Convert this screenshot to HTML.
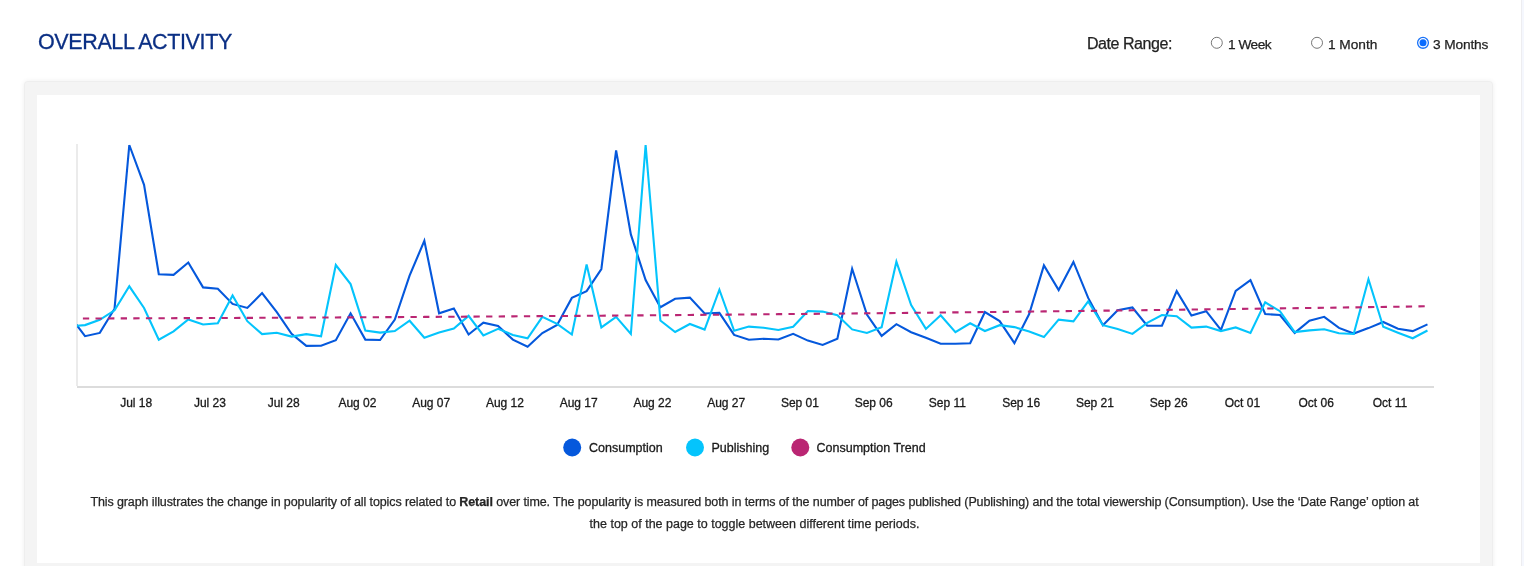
<!DOCTYPE html>
<html><head><meta charset="utf-8"><title>Overall Activity</title>
<style>
html,body{margin:0;padding:0;background:#fff;}
body>*{will-change:transform;}
body{width:1524px;height:566px;overflow:hidden;position:relative;font-family:"Liberation Sans",sans-serif;}
.abs{position:absolute;white-space:nowrap;line-height:1;}
h1{margin:0;position:absolute;left:38.2px;top:32px;font-size:21.5px;letter-spacing:-0.38px;font-weight:normal;color:#0b2f84;-webkit-text-stroke:0.3px #0b2f84;line-height:21.5px;}
.dr{left:1086.7px;top:36.3px;font-size:16px;letter-spacing:-0.45px;line-height:16px;color:#222;-webkit-text-stroke:0.25px #222;}
.rl{top:37.6px;font-size:13.7px;line-height:13.7px;color:#222;-webkit-text-stroke:0.25px #222;}
.panel{position:absolute;left:24px;top:81px;width:1469px;height:500px;background:#f4f4f4;border-radius:4px;box-shadow:0 0 5px rgba(0,0,0,0.07), inset 0 0 0 1px rgba(0,0,0,0.022);}
.inner{position:absolute;left:37px;top:95px;width:1443px;height:468px;background:#fff;}
.cap{position:absolute;left:32.75px;width:1443px;text-align:center;font-size:12.5px;color:#262626;line-height:22px;-webkit-text-stroke:0.25px #262626;}
svg text{font-family:"Liberation Sans",sans-serif;}
</style></head><body>
<h1>OVERALL ACTIVITY</h1>
<div class="abs dr">Date Range:</div>
<svg class="abs" style="left:0;top:0" width="1524" height="60">
<circle cx="1216.8" cy="42.8" r="5.5" fill="#fff" stroke="#777" stroke-width="1"/>
<circle cx="1317" cy="42.8" r="5.5" fill="#fff" stroke="#777" stroke-width="1"/>
<circle cx="1423" cy="42.85" r="5.4" fill="#fff" stroke="#1a73f8" stroke-width="1.3"/>
<circle cx="1423" cy="42.85" r="3.5" fill="#0a6cff"/>
</svg>
<div class="abs rl" style="left:1228.3px;letter-spacing:-0.5px">1 Week</div>
<div class="abs rl" style="left:1328.3px;letter-spacing:-0.03px">1 Month</div>
<div class="abs rl" style="left:1433.3px;letter-spacing:-0.12px">3 Months</div>
<div class="panel"></div>
<div class="inner"></div>
<svg class="abs" style="left:0;top:0" width="1524" height="566">
<defs><clipPath id="ca"><rect x="77" y="144.5" width="1360" height="242"/></clipPath></defs>
<line x1="77" y1="144" x2="77" y2="386" stroke="#ebebeb" stroke-width="2"/>
<line x1="77" y1="387" x2="1434" y2="387" stroke="#dcdcdc" stroke-width="2"/>
<g clip-path="url(#ca)" fill="none" stroke-width="2.1" stroke-linejoin="miter" stroke-miterlimit="4">
<polyline points="70.29,316.5 85.04,336.2 99.79,332.9 114.54,308.7 129.3,145 144.05,184.8 158.8,274.2 173.55,274.9 188.3,262.5 203.06,287.4 217.81,288.8 232.56,303.9 247.31,307.9 262.06,293.1 276.82,312.2 291.57,333.9 306.32,345.9 321.07,345.7 335.82,340.2 350.58,313.34 365.33,339.6 380.08,340 394.83,319.5 409.58,275.6 424.34,240.8 439.09,313.3 453.84,308.4 468.59,334.5 483.34,322.7 498.1,325.9 512.85,339.6 527.6,346.7 542.35,333.1 557.1,324.9 571.86,297.9 586.61,291.2 601.36,269 616.11,150.4 630.86,234.4 645.62,280 660.37,307.2 675.12,298.8 689.87,297.6 704.62,313.5 719.38,312.8 734.13,334.9 748.88,339.8 763.63,338.8 778.38,339.5 793.14,333.8 807.89,340.6 822.64,345 837.39,338.7 852.14,268.8 866.9,314.6 881.65,335.9 896.4,324.2 911.15,332.2 925.9,337.8 940.66,343.7 955.41,343.7 970.16,343.3 984.91,312 999.66,321.1 1014.42,343.1 1029.17,314 1043.92,265.4 1058.67,290.1 1073.42,261.9 1088.18,297.9 1102.93,325.2 1117.68,310.3 1132.43,307.5 1147.18,325.7 1161.94,325.7 1176.69,291.1 1191.44,315.5 1206.19,311.2 1220.94,329.8 1235.7,290.8 1250.45,280.1 1265.2,314 1279.95,315 1294.7,332.9 1309.46,320.7 1324.21,316.8 1338.96,327.9 1353.71,333.6 1368.46,328.1 1383.22,322 1397.97,328.7 1412.72,331.1 1427.47,324.4" stroke="#0558dc"/>
<polyline points="70.29,326.4 85.04,325.1 99.79,319.8 114.54,310.3 129.3,286.3 144.05,308 158.8,339.7 173.55,331.3 188.3,319.4 203.06,324.5 217.81,323.3 232.56,295.4 247.31,321.2 262.06,334.1 276.82,332.8 291.57,336.6 306.32,334.1 321.07,336.3 335.82,265 350.58,284.1 365.33,330.5 380.08,332.6 394.83,331.1 409.58,320.7 424.34,337.7 439.09,332.4 453.84,328.6 468.59,315.9 483.34,335.5 498.1,328.8 512.85,334.9 527.6,338.3 542.35,316.8 557.1,323.9 571.86,334.5 586.61,264.4 601.36,327.4 616.11,316.8 630.86,334 645.62,145 660.37,320.5 675.12,332 689.87,324 704.62,329.6 719.38,289.7 734.13,330.8 748.88,326.6 763.63,327.8 778.38,330 793.14,326.7 807.89,311 822.64,311.6 837.39,315.3 852.14,329.4 866.9,333 881.65,327.2 896.4,261.7 911.15,305.1 925.9,328.9 940.66,315.3 955.41,332.2 970.16,323.3 984.91,331 999.66,325.2 1014.42,327.1 1029.17,331.6 1043.92,337.1 1058.67,319.6 1073.42,321.4 1088.18,301.4 1102.93,325.2 1117.68,328.9 1132.43,333.9 1147.18,322.8 1161.94,315 1176.69,316.2 1191.44,327.6 1206.19,326.6 1220.94,331.1 1235.7,327.4 1250.45,332.9 1265.2,302.3 1279.95,311.2 1294.7,332.1 1309.46,330.4 1324.21,329.2 1338.96,333.2 1353.71,334 1368.46,279.3 1383.22,326.8 1397.97,332.7 1412.72,338.3 1427.47,330.5" stroke="#04c4fc"/>
<polyline points="70.29,318.56 99.79,318.47 129.3,318.36 158.8,318.25 188.3,318.13 217.81,318.01 247.31,317.88 276.82,317.74 306.32,317.59 335.82,317.43 365.33,317.27 394.83,317.1 424.34,316.92 453.84,316.73 483.34,316.53 512.85,316.33 542.35,316.12 571.86,315.91 601.36,315.68 630.86,315.45 660.37,315.21 689.87,314.96 719.38,314.7 748.88,314.44 778.38,314.17 807.89,313.89 837.39,313.6 866.9,313.31 896.4,313.01 925.9,312.7 955.41,312.38 984.91,312.06 1014.42,311.73 1043.92,311.39 1073.42,311.04 1102.93,310.68 1132.43,310.32 1161.94,309.95 1191.44,309.57 1220.94,309.19 1250.45,308.79 1279.95,308.39 1309.46,307.98 1338.96,307.57 1368.46,307.14 1397.97,306.71 1427.47,306.27" stroke="#ba2673" stroke-dasharray="6.3 6.3"/>
</g>
<g font-size="12" fill="#1a1a1a" stroke="#1a1a1a" stroke-width="0.3" text-anchor="middle">
<text x="136.2" y="407">Jul 18</text>
<text x="209.95" y="407">Jul 23</text>
<text x="283.7" y="407">Jul 28</text>
<text x="357.45" y="407">Aug 02</text>
<text x="431.2" y="407">Aug 07</text>
<text x="504.95" y="407">Aug 12</text>
<text x="578.7" y="407">Aug 17</text>
<text x="652.45" y="407">Aug 22</text>
<text x="726.2" y="407">Aug 27</text>
<text x="799.95" y="407">Sep 01</text>
<text x="873.7" y="407">Sep 06</text>
<text x="947.45" y="407">Sep 11</text>
<text x="1021.2" y="407">Sep 16</text>
<text x="1094.95" y="407">Sep 21</text>
<text x="1168.7" y="407">Sep 26</text>
<text x="1242.45" y="407">Oct 01</text>
<text x="1316.2" y="407">Oct 06</text>
<text x="1389.95" y="407">Oct 11</text>
</g>
<g font-size="12.5" fill="#1a1a1a" stroke="#1a1a1a" stroke-width="0.3">
<circle cx="572.2" cy="447.5" r="9" fill="#0558dc" stroke="none"/>
<text x="589" y="452">Consumption</text>
<circle cx="695" cy="447.5" r="9" fill="#04c4fc" stroke="none"/>
<text x="711.5" y="452">Publishing</text>
<circle cx="800.3" cy="447.5" r="9" fill="#ba2673" stroke="none"/>
<text x="816.5" y="452">Consumption Trend</text>
</g>
</svg>
<div class="cap" style="top:490.8px;letter-spacing:-0.105px">This graph illustrates the change in popularity of all topics related to <b>Retail</b> over time. The popularity is measured both in terms of the number of pages published (Publishing) and the total viewership (Consumption). Use the ‘Date Range’ option at</div>
<div class="cap" style="top:512.8px">the top of the page to toggle between different time periods.</div>
<div style="position:absolute;left:1521px;top:0;width:1px;height:566px;background:#ededf0"></div>
<div style="position:absolute;left:1522px;top:0;width:2px;height:566px;background:#f5f7fd"></div>
</body></html>
